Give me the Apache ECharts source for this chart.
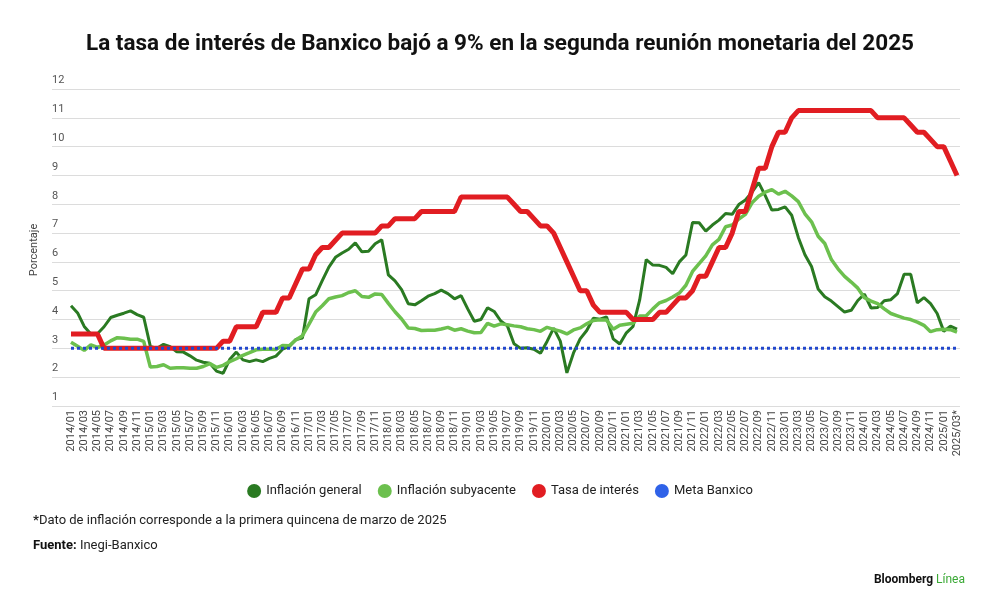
<!DOCTYPE html>
<html>
<head>
<meta charset="utf-8">
<script src="https://cdn.jsdelivr.net/npm/echarts@6/dist/echarts.min.js"></script>
<style>
html,body{margin:0;padding:0;background:#fff;}
#c{width:1000px;height:608px;}
</style>
</head>
<body>
<div id="c"></div>
<script>
const categories = [
 '2014/01','2014/02','2014/03','2014/04','2014/05','2014/06','2014/07','2014/08','2014/09','2014/10','2014/11','2014/12',
 '2015/01','2015/02','2015/03','2015/04','2015/05','2015/06','2015/07','2015/08','2015/09','2015/10','2015/11','2015/12',
 '2016/01','2016/02','2016/03','2016/04','2016/05','2016/06','2016/07','2016/08','2016/09','2016/10','2016/11','2016/12',
 '2017/01','2017/02','2017/03','2017/04','2017/05','2017/06','2017/07','2017/08','2017/09','2017/10','2017/11','2017/12',
 '2018/01','2018/02','2018/03','2018/04','2018/05','2018/06','2018/07','2018/08','2018/09','2018/10','2018/11','2018/12',
 '2019/01','2019/02','2019/03','2019/04','2019/05','2019/06','2019/07','2019/08','2019/09','2019/10','2019/11','2019/12',
 '2020/01','2020/02','2020/03','2020/04','2020/05','2020/06','2020/07','2020/08','2020/09','2020/10','2020/11','2020/12',
 '2021/01','2021/02','2021/03','2021/04','2021/05','2021/06','2021/07','2021/08','2021/09','2021/10','2021/11','2021/12',
 '2022/01','2022/02','2022/03','2022/04','2022/05','2022/06','2022/07','2022/08','2022/09','2022/10','2022/11','2022/12',
 '2023/01','2023/02','2023/03','2023/04','2023/05','2023/06','2023/07','2023/08','2023/09','2023/10','2023/11','2023/12',
 '2024/01','2024/02','2024/03','2024/04','2024/05','2024/06','2024/07','2024/08','2024/09','2024/10','2024/11','2024/12',
 '2025/01','2025/02','2025/03*'
];

const inflacionGeneral = [
 4.48,4.23,3.76,3.50,3.51,3.75,4.07,4.15,4.22,4.30,4.17,4.08,
 3.07,3.00,3.14,3.06,2.88,2.87,2.74,2.59,2.52,2.48,2.21,2.13,
 2.61,2.87,2.60,2.54,2.60,2.54,2.65,2.73,2.97,3.06,3.31,3.36,
 4.72,4.86,5.35,5.82,6.16,6.31,6.44,6.66,6.35,6.37,6.63,6.77,
 5.55,5.34,5.04,4.55,4.51,4.65,4.81,4.90,5.02,4.90,4.72,4.83,
 4.37,3.94,4.00,4.41,4.28,3.95,3.78,3.16,3.00,3.02,2.97,2.83,
 3.24,3.70,3.25,2.15,2.84,3.33,3.62,4.05,4.01,4.09,3.33,3.15,
 3.54,3.76,4.67,6.08,5.89,5.88,5.81,5.59,6.00,6.24,7.37,7.36,
 7.07,7.28,7.45,7.68,7.65,7.99,8.15,8.42,8.75,8.30,7.80,7.82,
 7.91,7.62,6.85,6.25,5.84,5.06,4.79,4.64,4.45,4.26,4.32,4.66,
 4.88,4.40,4.42,4.65,4.69,4.90,5.57,5.57,4.58,4.76,4.55,4.21,
 3.59,3.77,3.67
];

const inflacionSubyacente = [
 3.21,3.07,2.93,3.12,3.03,3.12,3.26,3.37,3.35,3.32,3.32,3.24,
 2.35,2.37,2.43,2.31,2.33,2.33,2.31,2.31,2.37,2.47,2.34,2.41,
 2.54,2.64,2.76,2.85,2.95,2.97,2.97,2.96,3.10,3.09,3.29,3.44,
 3.84,4.26,4.48,4.72,4.78,4.83,4.94,5.00,4.80,4.77,4.89,4.87,
 4.56,4.27,4.02,3.71,3.69,3.62,3.63,3.63,3.67,3.73,3.63,3.68,
 3.60,3.54,3.55,3.87,3.77,3.85,3.82,3.78,3.75,3.68,3.65,3.59,
 3.73,3.66,3.60,3.50,3.64,3.71,3.85,3.97,3.99,3.98,3.66,3.80,
 3.84,3.87,4.12,4.13,4.37,4.58,4.66,4.78,4.92,5.19,5.67,5.94,
 6.21,6.59,6.78,7.22,7.28,7.49,7.65,8.05,8.28,8.42,8.51,8.35,
 8.45,8.29,8.09,7.67,7.39,6.89,6.64,6.08,5.76,5.50,5.30,5.09,
 4.76,4.64,4.55,4.37,4.21,4.13,4.05,4.00,3.91,3.80,3.58,3.65,
 3.66,3.65,3.56
];

const tasaInteres = [
 3.50,3.50,3.50,3.50,3.50,3.00,3.00,3.00,3.00,3.00,3.00,3.00,
 3.00,3.00,3.00,3.00,3.00,3.00,3.00,3.00,3.00,3.00,3.00,3.25,
 3.25,3.75,3.75,3.75,3.75,4.25,4.25,4.25,4.75,4.75,5.25,5.75,
 5.75,6.25,6.50,6.50,6.75,7.00,7.00,7.00,7.00,7.00,7.00,7.25,
 7.25,7.50,7.50,7.50,7.50,7.75,7.75,7.75,7.75,7.75,7.75,8.25,
 8.25,8.25,8.25,8.25,8.25,8.25,8.25,8.00,7.75,7.75,7.50,7.25,
 7.25,7.00,6.50,6.00,5.50,5.00,5.00,4.50,4.25,4.25,4.25,4.25,
 4.25,4.00,4.00,4.00,4.00,4.25,4.25,4.50,4.75,4.75,5.00,5.50,
 5.50,6.00,6.50,6.50,7.00,7.75,7.75,8.50,9.25,9.25,10.00,10.50,
 10.50,11.00,11.25,11.25,11.25,11.25,11.25,11.25,11.25,11.25,11.25,11.25,
 11.25,11.25,11.00,11.00,11.00,11.00,11.00,10.75,10.50,10.50,10.25,10.00,
 10.00,9.50,9.00
];

const metaBanxico = [
 3,3,3,3,3,3,3,3,3,3,3,3,
 3,3,3,3,3,3,3,3,3,3,3,3,
 3,3,3,3,3,3,3,3,3,3,3,3,
 3,3,3,3,3,3,3,3,3,3,3,3,
 3,3,3,3,3,3,3,3,3,3,3,3,
 3,3,3,3,3,3,3,3,3,3,3,3,
 3,3,3,3,3,3,3,3,3,3,3,3,
 3,3,3,3,3,3,3,3,3,3,3,3,
 3,3,3,3,3,3,3,3,3,3,3,3,
 3,3,3,3,3,3,3,3,3,3,3,3,
 3,3,3,3,3,3,3,3,3,3,3,3,
 3,3,3
];

const seriesNames = ['Inflación general','Inflación subyacente','Tasa de interés','Meta Banxico'];
const yMin = 1, yMax = 12, yStep = 1;

const FONT = 'Roboto, "Noto Sans", sans-serif';
const chart = echarts.init(document.getElementById('c'), null, {renderer:'canvas'});

chart.setOption({
  animation: false,
  backgroundColor: '#ffffff',
  textStyle: {fontFamily: FONT},
  title: {
    text: 'La tasa de interés de Banxico bajó a 9% en la segunda reunión monetaria del 2025',
    left: 'center', top: 28,
    textStyle: {fontFamily: FONT, fontSize: 22.5, fontWeight: 'bold', color: '#111'}
  },
  legend: {
    data: seriesNames,
    top: 479, left: 'center',
    icon: 'circle', itemWidth: 14, itemHeight: 14, itemGap: 16,
    textStyle: {fontFamily: FONT, fontSize: 13, color: '#222'}
  },
  grid: [
    {left: 52, right: 40, top: 89, bottom: 202},
    {left: 71, right: 43, top: 89, bottom: 202}
  ],
  xAxis: [
    {gridIndex: 0, type: 'value', min: 0, max: 1, show: false},
    {gridIndex: 1, type: 'category', data: categories, boundaryGap: false,
     axisLine: {show: false}, axisTick: {show: false},
     axisLabel: {rotate: 90, interval: 1, fontSize: 11, color: '#444', margin: 4, fontFamily: FONT}}
  ],
  yAxis: [
    {gridIndex: 0, type: 'value', min: yMin, max: yMax, interval: yStep,
     axisLine: {show: false}, axisTick: {show: false},
     splitLine: {lineStyle: {color: '#dcdcdc', width: 1}},
     axisLabel: {inside: true, margin: 0, align: 'left', verticalAlign: 'bottom', padding: [0,0,3,0],
                 fontSize: 11, color: '#555', fontFamily: FONT}},
    {gridIndex: 1, type: 'value', min: yMin, max: yMax, interval: yStep, show: false}
  ],
  graphic: [
    {type: 'text', x: 34, y: 250, rotation: Math.PI/2,
     style: {text: 'Porcentaje', fontSize: 11, fill: '#444', fontFamily: FONT, align: 'center', verticalAlign: 'middle'}},
    {type: 'text', left: 33, top: 514,
     style: {text: '{b|*}Dato de inflación corresponde a la primera quincena de marzo de 2025',
       fontSize: 13, fill: '#222', fontFamily: FONT,
       rich: {b: {fontWeight: 'bold', fontSize: 13, fill: '#222', fontFamily: FONT}}}},
    {type: 'text', left: 33, top: 539,
     style: {text: '{b|Fuente:} Inegi-Banxico',
       fontSize: 13, fill: '#222', fontFamily: FONT,
       rich: {b: {fontWeight: 'bold', fontSize: 13, fill: '#111', fontFamily: FONT}}}},
    {type: 'text', right: 35, top: 574,
     style: {text: '{b|Bloomberg} {g|Línea}',
       fontSize: 12, fill: '#111', fontFamily: FONT,
       rich: {b: {fontWeight: 'bold', fontSize: 12, fill: '#111', fontFamily: FONT},
              g: {fontSize: 12, fill: '#3aa935', fontFamily: FONT}}}}
  ],
  series: [
    {name: seriesNames[0], type: 'line', xAxisIndex: 1, yAxisIndex: 1, data: inflacionGeneral,
     showSymbol: false, symbol: 'none', lineStyle: {color: '#2a7a22', width: 3}, itemStyle: {color: '#2a7a22'}},
    {name: seriesNames[1], type: 'line', xAxisIndex: 1, yAxisIndex: 1, data: inflacionSubyacente,
     showSymbol: false, symbol: 'none', lineStyle: {color: '#6cc04e', width: 3.5}, itemStyle: {color: '#6cc04e'}},
    {name: seriesNames[2], type: 'line', xAxisIndex: 1, yAxisIndex: 1, data: tasaInteres,
     showSymbol: false, symbol: 'none', lineStyle: {color: '#e11d22', width: 5}, itemStyle: {color: '#e11d22'}},
    {name: seriesNames[3], type: 'line', xAxisIndex: 1, yAxisIndex: 1, data: metaBanxico,
     showSymbol: false, symbol: 'none', lineStyle: {color: '#2247cc', width: 3, type: [3, 3], cap: 'butt'}, itemStyle: {color: '#2f62e8'}}
  ]
});
</script>
</body>
</html>
